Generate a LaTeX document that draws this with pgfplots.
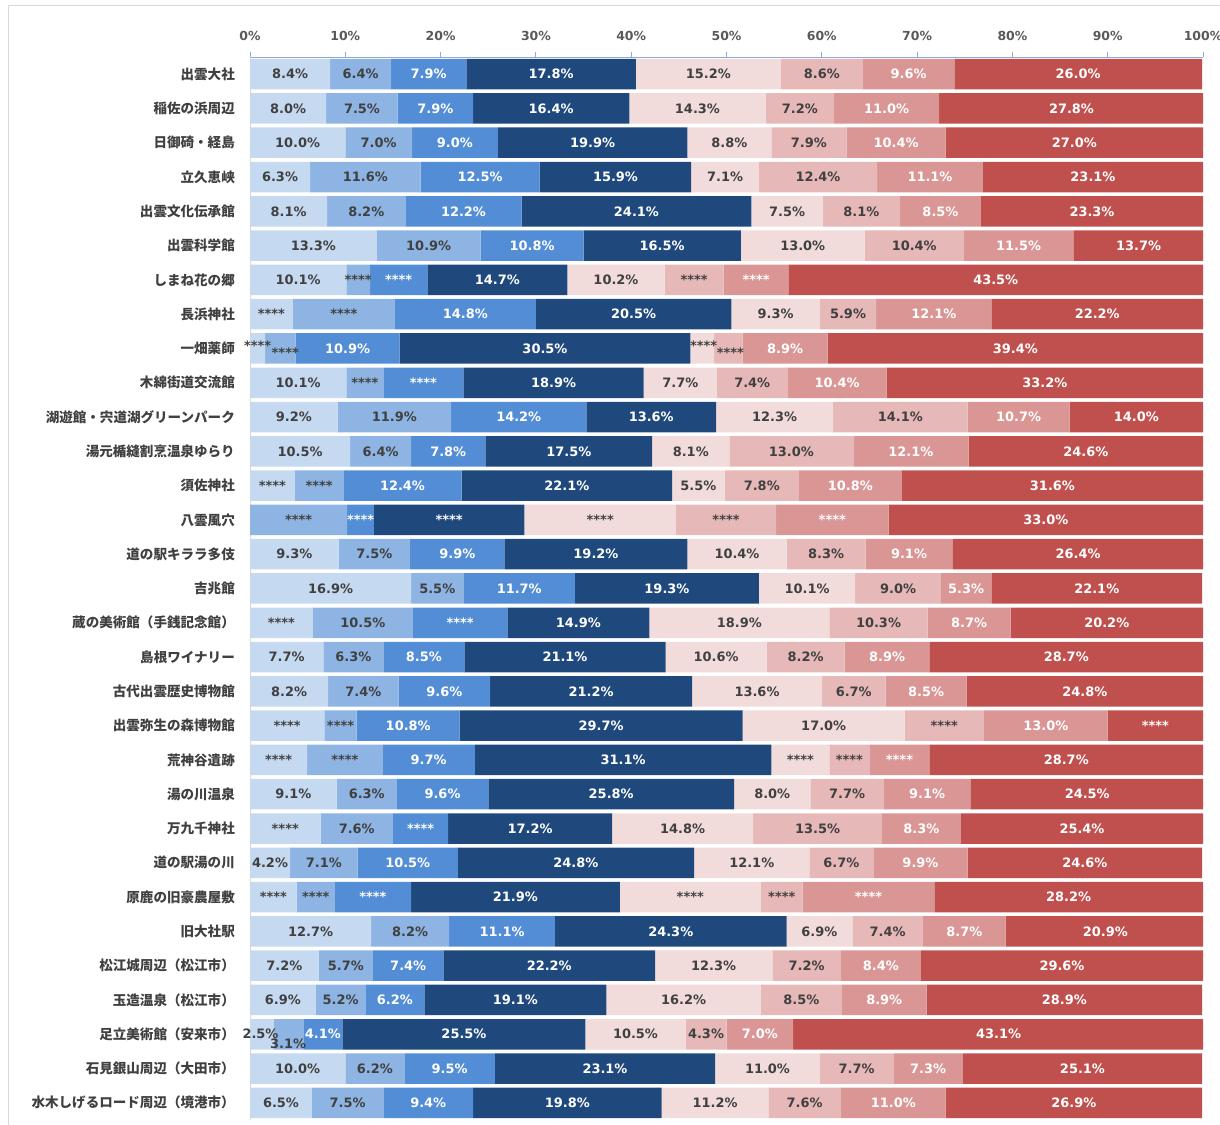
\documentclass[border=0pt]{standalone}
\usepackage{fontspec}
\setmainfont{DejaVu Sans}
\newfontfamily\jp{Noto Sans CJK JP}
\usepackage{pgfplots}
\usepackage{pgfplotstable}
\pgfplotsset{compat=1.18}

\definecolor{c1}{HTML}{C5D9F1}
\definecolor{c2}{HTML}{8DB4E2}
\definecolor{c3}{HTML}{538DD5}
\definecolor{c4}{HTML}{1F497D}
\definecolor{c5}{HTML}{F2DCDB}
\definecolor{c6}{HTML}{E6B8B7}
\definecolor{c7}{HTML}{DA9694}
\definecolor{c8}{HTML}{C0504D}
\definecolor{lbl}{HTML}{404040}
\definecolor{axgray}{HTML}{595959}
\definecolor{xline}{HTML}{8EA9DB}
\definecolor{frame}{HTML}{D9D9D9}

\def\starsstr{****}
\def\dashstr{-}
\newcommand\seglabel{\edef\tmp{\pgfplotspointmeta}\ifx\tmp\starsstr ****\else\ifx\tmp\dashstr\else\tmp\%\fi\fi}
\newcommand\lblfont{\bfseries\fontsize{13}{13}\selectfont}

\pgfplotstableread{
y a b c d e f g h la lb lc ld le lf lg lh
1 8.4 6.4 7.9 17.8 15.2 8.6 9.6 26.0 8.4 6.4 7.9 17.8 15.2 8.6 9.6 26.0
2 8.0 7.5 7.9 16.4 14.3 7.2 11.0 27.8 8.0 7.5 7.9 16.4 14.3 7.2 11.0 27.8
3 10.0 7.0 9.0 19.9 8.8 7.9 10.4 27.0 10.0 7.0 9.0 19.9 8.8 7.9 10.4 27.0
4 6.3 11.6 12.5 15.9 7.1 12.4 11.1 23.1 6.3 11.6 12.5 15.9 7.1 12.4 11.1 23.1
5 8.1 8.2 12.2 24.1 7.5 8.1 8.5 23.3 8.1 8.2 12.2 24.1 7.5 8.1 8.5 23.3
6 13.3 10.9 10.8 16.5 13.0 10.4 11.5 13.7 13.3 10.9 10.8 16.5 13.0 10.4 11.5 13.7
7 10.1 2.5 6.0 14.7 10.2 6.2 6.8 43.5 10.1 **** **** 14.7 10.2 **** **** 43.5
8 4.5 10.7 14.8 20.5 9.3 5.9 12.1 22.2 **** **** 14.8 20.5 9.3 5.9 12.1 22.2
9 1.6 3.2 10.9 30.5 2.5 3.0 8.9 39.4 - - 10.9 30.5 - - 8.9 39.4
10 10.1 3.9 8.4 18.9 7.7 7.4 10.4 33.2 10.1 **** **** 18.9 7.7 7.4 10.4 33.2
11 9.2 11.9 14.2 13.6 12.3 14.1 10.7 14.0 9.2 11.9 14.2 13.6 12.3 14.1 10.7 14.0
12 10.5 6.4 7.8 17.5 8.1 13.0 12.1 24.6 10.5 6.4 7.8 17.5 8.1 13.0 12.1 24.6
13 4.7 5.1 12.4 22.1 5.5 7.8 10.8 31.6 **** **** 12.4 22.1 5.5 7.8 10.8 31.6
14 0 10.2 2.8 15.8 15.9 10.5 11.8 33.0 - **** **** **** **** **** **** 33.0
15 9.3 7.5 9.9 19.2 10.4 8.3 9.1 26.4 9.3 7.5 9.9 19.2 10.4 8.3 9.1 26.4
16 16.9 5.5 11.7 19.3 10.1 9.0 5.3 22.1 16.9 5.5 11.7 19.3 10.1 9.0 5.3 22.1
17 6.6 10.5 9.9 14.9 18.9 10.3 8.7 20.2 **** 10.5 **** 14.9 18.9 10.3 8.7 20.2
18 7.7 6.3 8.5 21.1 10.6 8.2 8.9 28.7 7.7 6.3 8.5 21.1 10.6 8.2 8.9 28.7
19 8.2 7.4 9.6 21.2 13.6 6.7 8.5 24.8 8.2 7.4 9.6 21.2 13.6 6.7 8.5 24.8
20 7.8 3.4 10.8 29.7 17.0 8.3 13.0 10.0 **** **** 10.8 29.7 17.0 **** 13.0 ****
21 6.0 7.9 9.7 31.1 6.1 4.2 6.3 28.7 **** **** 9.7 31.1 **** **** **** 28.7
22 9.1 6.3 9.6 25.8 8.0 7.7 9.1 24.5 9.1 6.3 9.6 25.8 8.0 7.7 9.1 24.5
23 7.4 7.6 5.8 17.2 14.8 13.5 8.3 25.4 **** 7.6 **** 17.2 14.8 13.5 8.3 25.4
24 4.2 7.1 10.5 24.8 12.1 6.7 9.9 24.6 4.2 7.1 10.5 24.8 12.1 6.7 9.9 24.6
25 4.9 4.0 8.0 21.9 14.8 4.4 13.8 28.2 **** **** **** 21.9 **** **** **** 28.2
26 12.7 8.2 11.1 24.3 6.9 7.4 8.7 20.9 12.7 8.2 11.1 24.3 6.9 7.4 8.7 20.9
27 7.2 5.7 7.4 22.2 12.3 7.2 8.4 29.6 7.2 5.7 7.4 22.2 12.3 7.2 8.4 29.6
28 6.9 5.2 6.2 19.1 16.2 8.5 8.9 28.9 6.9 5.2 6.2 19.1 16.2 8.5 8.9 28.9
29 2.5 3.1 4.1 25.5 10.5 4.3 7.0 43.1 - - 4.1 25.5 10.5 4.3 7.0 43.1
30 10.0 6.2 9.5 23.1 11.0 7.7 7.3 25.1 10.0 6.2 9.5 23.1 11.0 7.7 7.3 25.1
31 6.5 7.5 9.4 19.8 11.2 7.6 11.0 26.9 6.5 7.5 9.4 19.8 11.2 7.6 11.0 26.9
}\data

\pgfplotsset{
  base/.style={width=953bp, height=1063bp, scale only axis,
    xmin=0, xmax=100, ymin=0.5, ymax=31.5,
    at={(250bp,-57bp)}, anchor=north west},
  lab/.style={draw=none, mark=none, nodes near coords=\seglabel,
    point meta=explicit symbolic,
    every node near coord/.style={anchor=center, inner sep=0pt, text=#1, font=\lblfont}},
}

\begin{document}
\begin{tikzpicture}
\draw[frame, line width=1bp] (8bp,-1200bp) -- (8bp,-5bp) -- (1300bp,-5bp);
\begin{axis}[base,
  xbar stacked, bar width=30.5bp,
  axis x line*=top, axis y line*=left,
  x axis line style={xline, line width=1bp, -},
  y axis line style={frame, line width=1bp, -},
  xtick={0,10,...,100},
  /pgf/number format/assume math mode=true,
  xticklabel={\pgfmathprintnumber{\tick}\%},
  tick align=outside,
  x tick style={xline, line width=1bp},
  major tick length=5bp,
  x tick label style={font=\bfseries\fontsize{12.5}{12.5}\selectfont, text=axgray},
  xticklabel shift=8bp,
  ytick={1,...,31},
  y tick style={draw=none},
  y tick label style={font=\jp\bfseries\fontsize{13.6}{14}\selectfont, text=lbl, inner sep=0pt},
  yticklabel shift=10bp,
  yticklabels={水木しげるロード周辺（境港市）,石見銀山周辺（大田市）,足立美術館（安来市）,玉造温泉（松江市）,松江城周辺（松江市）,旧大社駅,原鹿の旧豪農屋敷,道の駅湯の川,万九千神社,湯の川温泉,荒神谷遺跡,出雲弥生の森博物館,古代出雲歴史博物館,島根ワイナリー,蔵の美術館（手銭記念館）,吉兆館,道の駅キララ多伎,八雲風穴,須佐神社,湯元楯縫割烹温泉ゆらり,湖遊館・宍道湖グリーンパーク,木綿街道交流館,一畑薬師,長浜神社,しまね花の郷,出雲科学館,出雲文化伝承館,立久恵峡,日御碕・経島,稲佐の浜周辺,出雲大社},
]
\addplot[fill=c1, draw=none] table[x=a, y expr=32-\thisrow{y}]{\data};
\addplot[fill=c2, draw=none] table[x=b, y expr=32-\thisrow{y}]{\data};
\addplot[fill=c3, draw=none] table[x=c, y expr=32-\thisrow{y}]{\data};
\addplot[fill=c4, draw=none] table[x=d, y expr=32-\thisrow{y}]{\data};
\addplot[fill=c5, draw=none] table[x=e, y expr=32-\thisrow{y}]{\data};
\addplot[fill=c6, draw=none] table[x=f, y expr=32-\thisrow{y}]{\data};
\addplot[fill=c7, draw=none] table[x=g, y expr=32-\thisrow{y}]{\data};
\addplot[fill=c8, draw=none] table[x=h, y expr=32-\thisrow{y}]{\data};
\end{axis}
\begin{axis}[base, hide axis, clip=false]
\addplot[lab=lbl] table[x expr=\thisrow{a}/2, y expr=32-\thisrow{y}, meta=la]{\data};
\addplot[lab=lbl] table[x expr=\thisrow{a}+\thisrow{b}/2, y expr=32-\thisrow{y}, meta=lb]{\data};
\addplot[lab=white] table[x expr=\thisrow{a}+\thisrow{b}+\thisrow{c}/2, y expr=32-\thisrow{y}, meta=lc]{\data};
\addplot[lab=white] table[x expr=\thisrow{a}+\thisrow{b}+\thisrow{c}+\thisrow{d}/2, y expr=32-\thisrow{y}, meta=ld]{\data};
\addplot[lab=lbl] table[x expr=\thisrow{a}+\thisrow{b}+\thisrow{c}+\thisrow{d}+\thisrow{e}/2, y expr=32-\thisrow{y}, meta=le]{\data};
\addplot[lab=lbl] table[x expr=\thisrow{a}+\thisrow{b}+\thisrow{c}+\thisrow{d}+\thisrow{e}+\thisrow{f}/2, y expr=32-\thisrow{y}, meta=lf]{\data};
\addplot[lab=white] table[x expr=\thisrow{a}+\thisrow{b}+\thisrow{c}+\thisrow{d}+\thisrow{e}+\thisrow{f}+\thisrow{g}/2, y expr=32-\thisrow{y}, meta=lg]{\data};
\addplot[lab=white] table[x expr=\thisrow{a}+\thisrow{b}+\thisrow{c}+\thisrow{d}+\thisrow{e}+\thisrow{f}+\thisrow{g}+\thisrow{h}/2, y expr=32-\thisrow{y}, meta=lh]{\data};
% overlapping small labels, offset as in the original
\addplot[lab=lbl] coordinates {(0.8,23.09) [****] (3.7,22.88) [****] (47.6,23.09) [****] (50.4,22.88) [****]};
\addplot[lab=lbl] coordinates {(1.1,3.0) [2.5] (4.0,2.71) [3.1]};
\end{axis}
\pgfresetboundingbox
\useasboundingbox (0,0) rectangle (1220bp,-1125bp);
\end{tikzpicture}
\end{document}
